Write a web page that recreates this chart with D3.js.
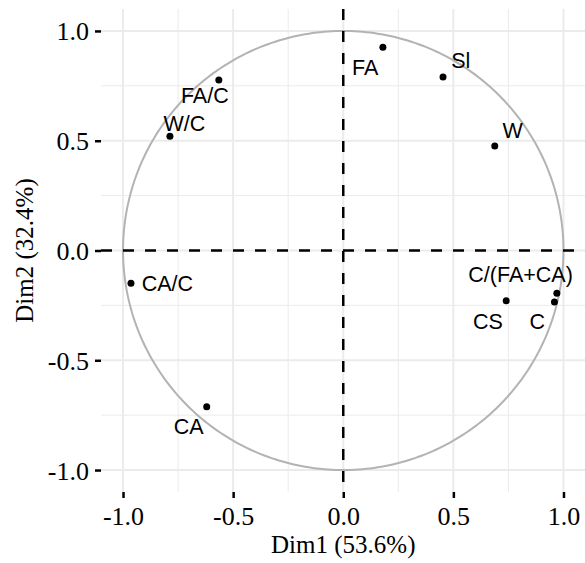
<!DOCTYPE html>
<html>
<head>
<meta charset="utf-8">
<script src="https://cdn.jsdelivr.net/npm/d3@7"></script>
<style>
  html, body { margin: 0; padding: 0; background: #fff; }
  svg { display: block; }
</style>
</head>
<body>
<svg id="chart" width="585" height="563"></svg>
<script>
// ---- data ----
const variables = ["FA/C", "W/C", "CA/C", "CA", "FA", "Sl", "W", "CS", "C", "C/(FA+CA)"];
const dim1 = [-0.565, -0.787, -0.964, -0.620, 0.180, 0.453, 0.688, 0.740, 0.959, 0.970];
const dim2 = [0.777, 0.520, -0.149, -0.712, 0.926, 0.790, 0.476, -0.229, -0.235, -0.195];
const majorTicks = [-1.0, -0.5, 0.0, 0.5, 1.0];
const minorTicks = [-0.75, -0.25, 0.25, 0.75];
const xTitle = "Dim1 (53.6%)";
const yTitle = "Dim2 (32.4%)";

// label placement (repelled offsets in px, centre of label relative to point)
const labelOffsets = {
  "FA/C": [-14, 15], "W/C": [14.5, -13.3], "CA/C": [36.5, 0.4], "CA": [-18, 19],
  "FA": [-17.8, 19.7], "Sl": [17.7, -16.7], "W": [18, -16],
  "CS": [-18.4, 20.1], "C": [-17.2, 18.8], "C/(FA+CA)": [-36.3, -18.6]
};

const svg = d3.select("#chart");
const panel = { left: 101, right: 585.5, top: 9, bottom: 492 };
const x = d3.scaleLinear().domain([-1.1, 1.1]).range([panel.left, panel.right]);
const y = d3.scaleLinear().domain([-1.1, 1.1]).range([panel.bottom, panel.top]);

const g = svg.append("g");
const gridColor = "#ebebeb";

// minor grid
g.selectAll(".vminor").data(minorTicks).join("line")
  .attr("x1", d => x(d)).attr("x2", d => x(d))
  .attr("y1", panel.top).attr("y2", panel.bottom)
  .attr("stroke", gridColor).attr("stroke-width", 1);
g.selectAll(".hminor").data(minorTicks).join("line")
  .attr("y1", d => y(d)).attr("y2", d => y(d))
  .attr("x1", panel.left).attr("x2", panel.right)
  .attr("stroke", gridColor).attr("stroke-width", 1);
// major grid
g.selectAll(".vmajor").data(majorTicks).join("line")
  .attr("x1", d => x(d)).attr("x2", d => x(d))
  .attr("y1", panel.top).attr("y2", panel.bottom)
  .attr("stroke", gridColor).attr("stroke-width", 2);
g.selectAll(".hmajor").data(majorTicks).join("line")
  .attr("y1", d => y(d)).attr("y2", d => y(d))
  .attr("x1", panel.left).attr("x2", panel.right)
  .attr("stroke", gridColor).attr("stroke-width", 2);

// unit circle
const circlePts = d3.range(0, 361).map(a => [Math.cos(a * Math.PI / 180), Math.sin(a * Math.PI / 180)]);
g.append("path")
  .attr("d", d3.line().x(d => x(d[0])).y(d => y(d[1]))(circlePts))
  .attr("fill", "none").attr("stroke", "#b3b3b3").attr("stroke-width", 2);

// dashed reference lines
g.append("line")
  .attr("x1", panel.left).attr("x2", panel.right).attr("y1", y(0)).attr("y2", y(0))
  .attr("stroke", "#000").attr("stroke-width", 2.5).attr("stroke-dasharray", "11,11");
g.append("line")
  .attr("x1", x(0)).attr("x2", x(0)).attr("y1", panel.top).attr("y2", panel.bottom)
  .attr("stroke", "#000").attr("stroke-width", 2.5).attr("stroke-dasharray", "11,11");

// points
const rows = variables.map((v, i) => ({ name: v, x: dim1[i], y: dim2[i] }));
g.selectAll(".pt").data(rows).join("circle")
  .attr("cx", d => x(d.x)).attr("cy", d => y(d.y)).attr("r", 3.5).attr("fill", "#000");

// labels
const labFs = 21.5;
g.selectAll(".lab").data(rows).join("text")
  .attr("x", d => x(d.x) + labelOffsets[d.name][0])
  .attr("y", d => y(d.y) + labelOffsets[d.name][1] + 0.358 * labFs)
  .attr("text-anchor", "middle")
  .attr("font-family", "Liberation Sans, Arial, sans-serif")
  .attr("font-size", labFs)
  .attr("fill", "#000")
  .text(d => d.name);

// axes
const tickFmt = d3.format(".1f");
const xAxis = d3.axisBottom(x).tickValues(majorTicks).tickSize(6).tickPadding(9)
  .tickFormat(d => tickFmt(d).replace("−", "-"));
const yAxis = d3.axisLeft(y).tickValues(majorTicks).tickSize(6).tickPadding(6)
  .tickFormat(d => tickFmt(d).replace("−", "-"));

const gx = svg.append("g").attr("transform", `translate(0,${panel.bottom})`).call(xAxis);
const gy = svg.append("g").attr("transform", `translate(${panel.left},0)`).call(yAxis);
[gx, gy].forEach(ax => {
  ax.select(".domain").remove();
  ax.selectAll(".tick line").attr("stroke", "#000").attr("stroke-width", 2.5);
  ax.selectAll(".tick text").attr("fill", "#000")
    .attr("font-family", "Liberation Serif, Times New Roman, serif").attr("font-size", 26);
});
gx.selectAll(".tick text").attr("dy", null).attr("y", 33);
gy.selectAll(".tick text").attr("dy", null).attr("y", 9).attr("x", -12);

// titles
svg.append("text")
  .attr("x", x(0)).attr("y", 553)
  .attr("text-anchor", "middle")
  .attr("font-family", "Liberation Serif, Times New Roman, serif").attr("font-size", 25)
  .attr("fill", "#000").text(xTitle);
svg.append("text")
  .attr("transform", `translate(33,${(panel.top + panel.bottom) / 2}) rotate(-90)`)
  .attr("text-anchor", "middle")
  .attr("font-family", "Liberation Serif, Times New Roman, serif").attr("font-size", 25)
  .attr("fill", "#000").text(yTitle);
</script>
</body>
</html>
